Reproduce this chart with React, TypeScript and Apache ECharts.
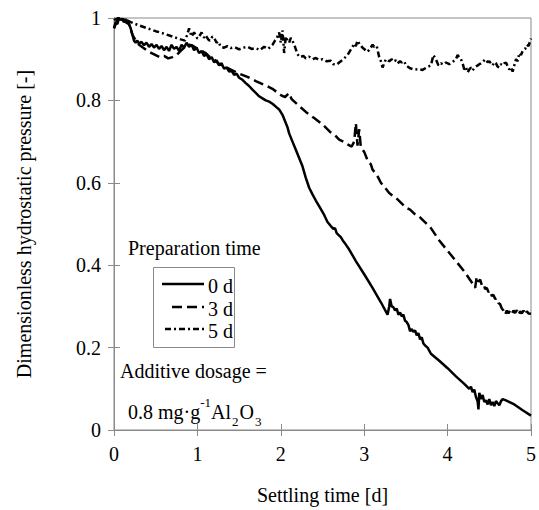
import React, { useEffect, useRef } from "react";
import * as echarts from "echarts";

// Settling time [d] and dimensionless hydrostatic pressure [-]
const prep0d: [number, number][] = [
  [0, 0.975], [0.02, 0.99], [0.04, 0.985], [0.06, 1.0], [0.08, 0.995], [0.1, 0.998], [0.12, 0.99],
  [0.14, 0.997], [0.16, 0.992], [0.18, 0.985], [0.2, 0.975], [0.22, 0.96], [0.24, 0.945], [0.26, 0.94],
  [0.28, 0.945], [0.3, 0.938], [0.33, 0.942], [0.36, 0.934], [0.39, 0.94], [0.42, 0.93], [0.45, 0.937],
  [0.48, 0.928], [0.51, 0.935], [0.54, 0.925], [0.57, 0.932], [0.6, 0.922], [0.63, 0.93], [0.66, 0.92],
  [0.69, 0.935], [0.72, 0.925], [0.75, 0.93], [0.78, 0.92], [0.81, 0.935], [0.84, 0.928], [0.87, 0.94],
  [0.9, 0.93], [0.93, 0.935], [0.96, 0.922], [0.99, 0.928], [1.02, 0.915], [1.05, 0.92], [1.08, 0.908],
  [1.11, 0.912], [1.14, 0.9], [1.17, 0.905], [1.2, 0.893], [1.23, 0.897], [1.26, 0.885], [1.29, 0.89],
  [1.32, 0.877], [1.35, 0.88], [1.38, 0.87], [1.41, 0.872], [1.44, 0.862], [1.47, 0.865], [1.5, 0.855],
  [1.54, 0.85], [1.58, 0.842], [1.62, 0.835], [1.66, 0.826], [1.7, 0.818], [1.74, 0.81], [1.78, 0.805],
  [1.82, 0.8], [1.86, 0.797], [1.9, 0.792], [1.94, 0.785], [1.98, 0.778], [2.02, 0.765], [2.05, 0.75],
  [2.08, 0.735], [2.1, 0.72], [2.14, 0.7], [2.18, 0.68], [2.22, 0.66], [2.26, 0.64], [2.3, 0.612],
  [2.34, 0.588], [2.38, 0.572], [2.42, 0.557], [2.47, 0.54], [2.52, 0.522], [2.56, 0.505], [2.6, 0.495],
  [2.63, 0.488], [2.65, 0.49], [2.67, 0.478], [2.7, 0.472], [2.72, 0.468], [2.75, 0.458], [2.78, 0.45],
  [2.82, 0.438], [2.9, 0.41], [3.0, 0.378], [3.1, 0.345], [3.2, 0.31], [3.28, 0.28], [3.3, 0.3],
  [3.31, 0.318], [3.33, 0.3], [3.35, 0.298], [3.37, 0.29], [3.39, 0.295], [3.41, 0.28], [3.43, 0.285],
  [3.45, 0.276], [3.47, 0.28], [3.49, 0.265], [3.51, 0.262], [3.53, 0.255], [3.55, 0.24], [3.57, 0.245],
  [3.59, 0.238], [3.61, 0.242], [3.63, 0.23], [3.65, 0.235], [3.67, 0.22], [3.69, 0.225], [3.71, 0.21],
  [3.73, 0.205], [3.76, 0.2], [3.8, 0.185], [3.9, 0.168], [4.0, 0.15], [4.1, 0.13], [4.2, 0.112],
  [4.26, 0.1], [4.28, 0.105], [4.3, 0.092], [4.32, 0.098], [4.34, 0.08], [4.36, 0.07], [4.37, 0.05],
  [4.38, 0.09], [4.4, 0.075], [4.42, 0.085], [4.44, 0.068], [4.46, 0.072], [4.48, 0.062], [4.5, 0.075],
  [4.52, 0.06], [4.54, 0.068], [4.56, 0.058], [4.58, 0.07], [4.6, 0.065], [4.62, 0.06], [4.64, 0.07],
  [4.66, 0.075], [4.7, 0.072], [4.8, 0.062], [4.9, 0.048], [5.0, 0.035],
];

const prep3d: [number, number][] = [
  [0, 0.975], [0.03, 0.99], [0.06, 1.0], [0.1, 0.995], [0.14, 0.99], [0.18, 0.985], [0.22, 0.96],
  [0.26, 0.945], [0.3, 0.935], [0.35, 0.928], [0.4, 0.92], [0.45, 0.915], [0.5, 0.91], [0.55, 0.905],
  [0.6, 0.908], [0.65, 0.902], [0.7, 0.905], [0.75, 0.91], [0.8, 0.92], [0.85, 0.93], [0.9, 0.935],
  [0.95, 0.932], [1.0, 0.925], [1.05, 0.92], [1.1, 0.915], [1.15, 0.905], [1.2, 0.9], [1.25, 0.89],
  [1.3, 0.885], [1.35, 0.88], [1.4, 0.875], [1.45, 0.87], [1.5, 0.865], [1.6, 0.857], [1.7, 0.847],
  [1.8, 0.838], [1.9, 0.828], [2.0, 0.813], [2.05, 0.808], [2.1, 0.818], [2.13, 0.803], [2.2, 0.79],
  [2.3, 0.772], [2.4, 0.757], [2.5, 0.742], [2.6, 0.722], [2.65, 0.715], [2.7, 0.705], [2.75, 0.7],
  [2.8, 0.693], [2.85, 0.688], [2.88, 0.7], [2.9, 0.745], [2.92, 0.69], [2.94, 0.73], [2.96, 0.685],
  [3.0, 0.675], [3.05, 0.65], [3.08, 0.645], [3.1, 0.632], [3.15, 0.62], [3.2, 0.6], [3.25, 0.588],
  [3.3, 0.575], [3.4, 0.56], [3.5, 0.54], [3.55, 0.535], [3.6, 0.525], [3.65, 0.52], [3.7, 0.51],
  [3.75, 0.5], [3.8, 0.49], [3.9, 0.46], [4.0, 0.435], [4.1, 0.41], [4.2, 0.385], [4.3, 0.355],
  [4.33, 0.345], [4.35, 0.372], [4.37, 0.36], [4.39, 0.365], [4.41, 0.352], [4.43, 0.355], [4.45, 0.342],
  [4.47, 0.345], [4.49, 0.335], [4.51, 0.338], [4.53, 0.325], [4.55, 0.328], [4.57, 0.318], [4.59, 0.32],
  [4.61, 0.308], [4.63, 0.305], [4.65, 0.295], [4.67, 0.29], [4.69, 0.28], [4.71, 0.29], [4.73, 0.283],
  [4.75, 0.29], [4.77, 0.282], [4.79, 0.29], [4.81, 0.284], [4.83, 0.291], [4.85, 0.28], [4.87, 0.288],
  [4.89, 0.283], [4.91, 0.29], [4.93, 0.28], [4.95, 0.288], [4.97, 0.283], [5.0, 0.282],
];

const prep5d: [number, number][] = [
  [0, 0.995], [0.05, 1.0], [0.1, 0.998], [0.15, 0.995], [0.2, 0.99], [0.3, 0.982], [0.4, 0.975],
  [0.5, 0.968], [0.6, 0.962], [0.7, 0.955], [0.8, 0.948], [0.85, 0.945], [0.88, 0.96], [0.9, 0.975],
  [0.93, 0.955], [0.96, 0.965], [1.0, 0.95], [1.03, 0.958], [1.05, 0.965], [1.08, 0.952], [1.1, 0.958],
  [1.13, 0.948], [1.15, 0.945], [1.18, 0.955], [1.2, 0.952], [1.23, 0.94], [1.25, 0.943], [1.28, 0.93],
  [1.32, 0.928], [1.36, 0.932], [1.4, 0.927], [1.45, 0.929], [1.5, 0.924], [1.55, 0.928], [1.6, 0.93],
  [1.65, 0.925], [1.7, 0.927], [1.75, 0.922], [1.8, 0.93], [1.85, 0.925], [1.9, 0.935], [1.93, 0.945],
  [1.95, 0.95], [1.98, 0.965], [2.0, 0.94], [2.02, 0.97], [2.04, 0.915], [2.06, 0.955], [2.08, 0.945],
  [2.1, 0.94], [2.12, 0.952], [2.14, 0.945], [2.17, 0.93], [2.2, 0.912], [2.23, 0.905], [2.27, 0.908],
  [2.3, 0.902], [2.34, 0.906], [2.38, 0.9], [2.42, 0.903], [2.46, 0.898], [2.5, 0.9], [2.55, 0.895],
  [2.6, 0.896], [2.63, 0.888], [2.67, 0.887], [2.7, 0.892], [2.75, 0.9], [2.8, 0.91], [2.83, 0.92],
  [2.86, 0.93], [2.88, 0.938], [2.9, 0.932], [2.92, 0.945], [2.95, 0.935], [2.98, 0.928], [3.0, 0.925],
  [3.03, 0.918], [3.06, 0.922], [3.1, 0.935], [3.12, 0.93], [3.15, 0.932], [3.18, 0.905], [3.2, 0.895],
  [3.22, 0.88], [3.24, 0.89], [3.26, 0.9], [3.3, 0.895], [3.33, 0.9], [3.35, 0.894], [3.38, 0.897],
  [3.4, 0.89], [3.43, 0.895], [3.45, 0.892], [3.48, 0.895], [3.5, 0.885], [3.55, 0.878], [3.6, 0.875],
  [3.65, 0.876], [3.7, 0.874], [3.75, 0.88], [3.8, 0.885], [3.83, 0.91], [3.86, 0.9], [3.89, 0.885],
  [3.92, 0.89], [3.95, 0.887], [3.98, 0.892], [4.02, 0.888], [4.07, 0.895], [4.1, 0.9], [4.12, 0.91],
  [4.14, 0.905], [4.16, 0.9], [4.18, 0.89], [4.2, 0.875], [4.22, 0.88], [4.24, 0.868], [4.26, 0.875],
  [4.28, 0.88], [4.3, 0.873], [4.32, 0.878], [4.34, 0.882], [4.36, 0.885], [4.38, 0.888], [4.4, 0.89],
  [4.43, 0.895], [4.45, 0.9], [4.48, 0.893], [4.5, 0.895], [4.52, 0.89], [4.54, 0.885], [4.56, 0.893],
  [4.58, 0.89], [4.6, 0.882], [4.62, 0.88], [4.64, 0.888], [4.66, 0.885], [4.68, 0.89], [4.7, 0.892],
  [4.72, 0.883], [4.74, 0.875], [4.76, 0.88], [4.78, 0.87], [4.8, 0.885], [4.82, 0.9], [4.84, 0.895],
  [4.86, 0.915], [4.88, 0.91], [4.9, 0.92], [4.93, 0.925], [4.95, 0.935], [4.97, 0.932], [5.0, 0.95],
];

const seriesNames = ["0 d", "3 d", "5 d"];
const legendTitle = "Preparation time";
const xAxisName = "Settling time [d]";
const yAxisName = "Dimensionless hydrostatic pressure [-]";

const FONT = "Liberation Serif";
const GREY = "#8a8a8a";
const DASH: number[] = [10, 5];
const DASHDOT: number[] = [6, 3, 2, 3];

export default function App() {
  const ref = useRef<HTMLDivElement>(null);

  useEffect(() => {
    document.body.style.margin = "0";
    if (!ref.current) return;
    const chart = echarts.init(ref.current, undefined, { renderer: "svg" });

    const txt = { fontFamily: FONT, fontSize: 20, color: "#000" };
    const gtxt = { fontFamily: FONT, fontSize: 20, fill: "#000" };
    const lineStyles = [
      { color: "#000", width: 2.5, type: "solid" as any },
      { color: "#000", width: 2.5, type: DASH as any },
      { color: "#000", width: 2.5, type: DASHDOT as any },
    ];
    const datasets = [prep0d, prep3d, prep5d];

    const legendRowsY = [284, 307, 329];
    const legendLineX = [[162, 204], [172, 204], [165, 204]];

    const graphics: any[] = [
      {
        type: "text",
        left: 128,
        top: 238,
        style: { text: legendTitle, ...gtxt },
      },
      {
        type: "rect",
        shape: { x: 153.5, y: 267.5, width: 81, height: 80 },
        style: { fill: "#fff", stroke: GREY, lineWidth: 1 },
      },
      {
        type: "text",
        left: 120,
        top: 361,
        style: { text: "Additive dosage =", ...gtxt },
      },
      {
        type: "text",
        x: 128,
        y: 396,
        style: {
          text: "{m|0.8 mg·g}{s|-1}{m|Al}{b|2}{m|O}{b|3}",
          fill: "#000",
          rich: {
            m: { fontFamily: FONT, fontSize: 20, lineHeight: 32, verticalAlign: "middle" },
            s: { fontFamily: FONT, fontSize: 13, lineHeight: 13, verticalAlign: "top" },
            b: { fontFamily: FONT, fontSize: 13, lineHeight: 13, verticalAlign: "bottom", padding: [0, 1, 0, 1] },
          },
        },
      },
    ];
    seriesNames.forEach((n, i) => {
      graphics.push({
        type: "line",
        shape: { x1: legendLineX[i][0], y1: legendRowsY[i], x2: legendLineX[i][1], y2: legendRowsY[i] },
        style: { stroke: "#000", lineWidth: 2.5, lineDash: i === 0 ? null : i === 1 ? DASH : DASHDOT },
      });
      graphics.push({
        type: "text",
        x: 233,
        y: legendRowsY[i] + 2,
        style: { text: n, ...gtxt, textAlign: "right", textVerticalAlign: "middle" },
      });
    });

    chart.setOption({
      animation: false,
      backgroundColor: "#fff",
      textStyle: { fontFamily: FONT },
      grid: {
        left: 114,
        top: 18,
        width: 420,
        height: 419,
        show: true,
        borderColor: GREY,
        borderWidth: 1,
        backgroundColor: "transparent",
      },
      xAxis: [
        {
          type: "value",
          min: 0,
          max: 5,
          interval: 1,
          name: xAxisName,
          nameLocation: "middle",
          nameGap: 55,
          nameTextStyle: { ...txt },
          axisLine: { show: true, lineStyle: { color: GREY, width: 1 } },
          axisTick: { show: true, inside: true, length: 6, lineStyle: { color: GREY } },
          axisLabel: { ...txt, margin: 14 },
          splitLine: { show: false },
        },
        {
          type: "value",
          position: "top",
          min: 0,
          max: 5,
          interval: 1,
          axisLine: { show: true, lineStyle: { color: GREY, width: 1 } },
          axisTick: { show: true, inside: true, length: 6, lineStyle: { color: GREY } },
          axisLabel: { show: false },
          splitLine: { show: false },
        },
      ],
      yAxis: [
        {
          type: "value",
          min: 0,
          max: 1,
          interval: 0.2,
          name: yAxisName,
          nameLocation: "middle",
          nameGap: 80,
          nameTextStyle: { ...txt },
          axisLine: { show: true, lineStyle: { color: GREY, width: 1 } },
          axisTick: { show: true, inside: true, length: 6, lineStyle: { color: GREY } },
          axisLabel: { ...txt, margin: 13 },
          splitLine: { show: false },
        },
        {
          type: "value",
          position: "right",
          min: 0,
          max: 1,
          interval: 0.2,
          axisLine: { show: true, lineStyle: { color: GREY, width: 1 } },
          axisTick: { show: true, inside: true, length: 6, lineStyle: { color: GREY } },
          axisLabel: { show: false },
          splitLine: { show: false },
        },
      ],
      series: datasets.map((d, i) => ({
        name: seriesNames[i],
        type: "line",
        data: d,
        showSymbol: false,
        symbol: "none",
        clip: true,
        lineStyle: lineStyles[i],
        z: 5 - i,
      })),
      graphic: graphics,
    });

    return () => chart.dispose();
  }, []);

  return <div ref={ref} style={{ width: 539, height: 510 }} />;
}
